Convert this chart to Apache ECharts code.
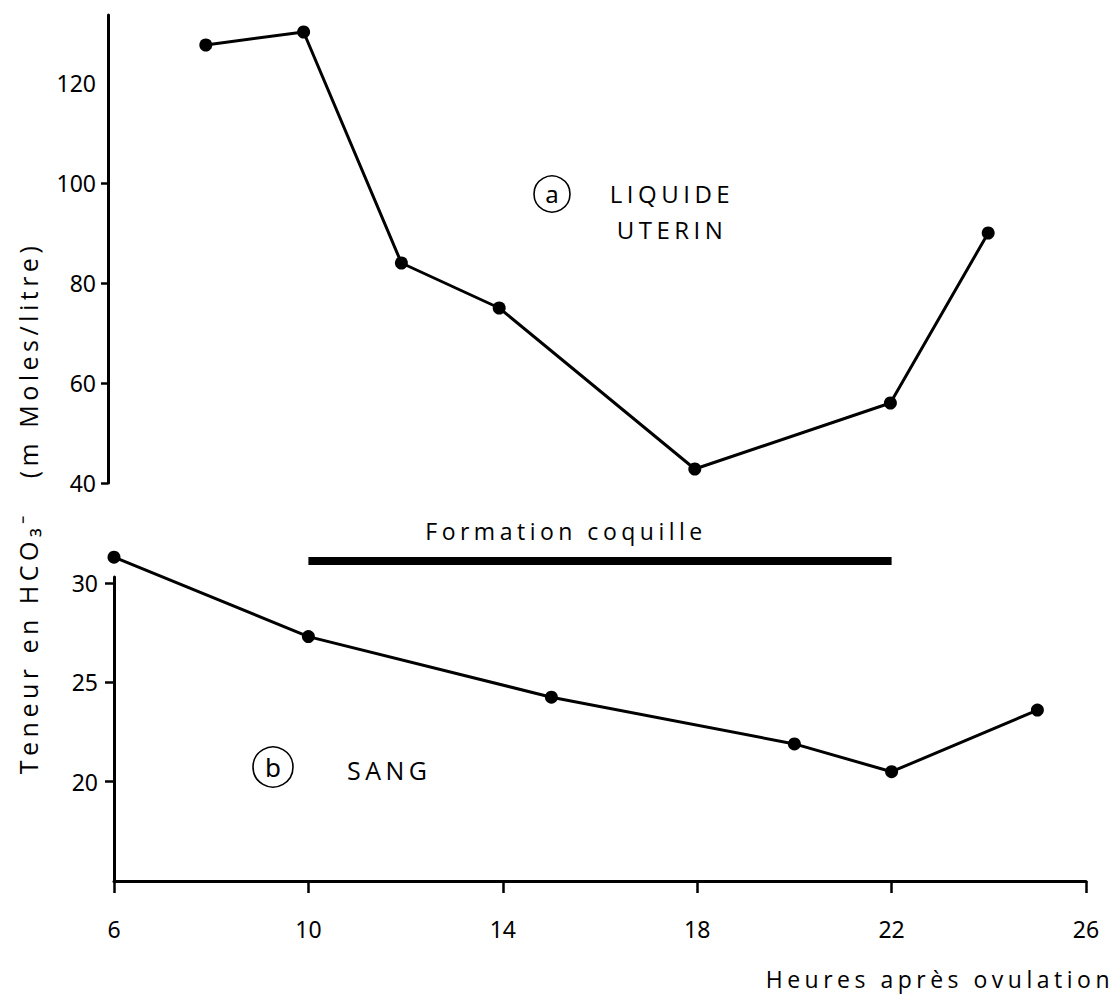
<!DOCTYPE html>
<html>
<head>
<meta charset="utf-8">
<script src="https://cdn.jsdelivr.net/npm/echarts@6/dist/echarts.min.js"></script>
<style>
  html, body { margin: 0; padding: 0; background: #fff; }
  #chart { width: 1120px; height: 997px; }
  /* typewriter-like spacing for the hand-lettered captions */
  #chart text[style*="Open Sans"] { letter-spacing: 4.5px; }
</style>
</head>
<body>
<div id="chart"></div>
<script>
// Hours after ovulation (shared x axis)
const hourTicks = [6, 10, 14, 18, 22, 26];

// (a) uterine fluid, HCO3- in mmol/L
const uterineHours = [8, 10, 12, 14, 18, 22, 24];
const uterineHCO3 = [127.6, 130.2, 84, 75, 42.8, 56, 90];
const uterineLabels = [40, 60, 80, 100, 120];
const uterineTickMarks = [40, 60, 80, 100];

// (b) blood, HCO3- in mmol/L
const bloodHours = [6, 10, 15, 20, 22, 25];
const bloodHCO3 = [31.3, 27.3, 24.25, 21.9, 20.5, 23.6];
const bloodLabels = [20, 25, 30];

// shell formation period
const shellHours = [10, 22];
const shellLevel = 31.1;

const INK = '#000';
const TICK_FONT = 'Noto Sans';
const CAPTION_FONT = 'Open Sans';

const zip = (xs, ys) => xs.map((x, i) => [x, ys[i]]);

const chart = echarts.init(document.getElementById('chart'), null, { renderer: 'svg' });

const axisLine = { show: true, lineStyle: { color: INK, width: 3 } };
const tickLabel = { color: INK, fontFamily: TICK_FONT, fontSize: 23 };

const lineSeries = (xi, yi, data) => ({
  type: 'line',
  xAxisIndex: xi,
  yAxisIndex: yi,
  data: data,
  symbol: 'circle',
  symbolSize: 13,
  clip: false,
  lineStyle: { color: INK, width: 3 },
  itemStyle: { color: INK },
  emphasis: { disabled: true }
});

chart.setOption({
  animation: false,
  backgroundColor: '#fff',
  grid: [
    { left: 108, right: 34, top: 15, height: 468 },
    { left: 114, right: 34, top: 577, height: 304 }
  ],
  xAxis: [
    { gridIndex: 0, type: 'value', min: 6, max: 26, show: false },
    {
      gridIndex: 1, type: 'value', min: 6, max: 26,
      axisLine: { show: true, lineStyle: { color: INK, width: 3 } },
      axisTick: { show: true, customValues: hourTicks, length: 12, lineStyle: { color: INK, width: 2.5 } },
      axisLabel: Object.assign({ customValues: hourTicks, margin: 36 }, tickLabel),
      splitLine: { show: false }
    }
  ],
  yAxis: [
    {
      gridIndex: 0, type: 'value', min: 40, max: 133.6,
      axisLine: axisLine,
      axisTick: { show: true, customValues: uterineTickMarks, length: 7, lineStyle: { color: INK, width: 2.5 } },
      axisLabel: Object.assign({ customValues: uterineLabels, margin: 12 }, tickLabel),
      splitLine: { show: false }
    },
    {
      gridIndex: 1, type: 'value', min: 15, max: 30.3,
      axisLine: axisLine,
      axisTick: { show: true, customValues: bloodLabels, length: 9, lineStyle: { color: INK, width: 2.5 } },
      axisLabel: Object.assign({ customValues: bloodLabels, margin: 16 }, tickLabel),
      splitLine: { show: false }
    }
  ],
  series: [
    lineSeries(0, 0, zip(uterineHours, uterineHCO3)),
    lineSeries(1, 1, zip(bloodHours, bloodHCO3)),
    {
      type: 'line',
      xAxisIndex: 1,
      yAxisIndex: 1,
      data: shellHours.map(h => [h, shellLevel]),
      symbol: 'none',
      clip: false,
      lineStyle: { color: INK, width: 8, cap: 'butt' },
      emphasis: { disabled: true }
    }
  ],
  graphic: [
    {
      type: 'text', x: 28, y: 508, rotation: Math.PI / 2,
      style: {
        text: 'Teneur en HCO\u2083\u207B   (m Moles/litre)',
        fontFamily: CAPTION_FONT, fontSize: 25, fill: INK,
        align: 'center', verticalAlign: 'middle', textAlign: 'center', textVerticalAlign: 'middle'
      }
    },
    {
      type: 'circle', shape: { cx: 552, cy: 194, r: 18 },
      style: { fill: 'none', stroke: INK, lineWidth: 1.6 }
    },
    {
      type: 'text', x: 552, y: 193,
      style: {
        text: 'a', fontFamily: TICK_FONT, fontSize: 24, fill: INK,
        align: 'center', verticalAlign: 'middle', textAlign: 'center', textVerticalAlign: 'middle'
      }
    },
    {
      type: 'text', x: 672, y: 211,
      style: {
        text: 'LIQUIDE\nUTERIN', fontFamily: CAPTION_FONT, fontSize: 24, lineHeight: 36, fill: INK,
        align: 'center', verticalAlign: 'middle', textAlign: 'center', textVerticalAlign: 'middle'
      }
    },
    {
      type: 'circle', shape: { cx: 273, cy: 767, r: 20 },
      style: { fill: 'none', stroke: INK, lineWidth: 1.6 }
    },
    {
      type: 'text', x: 273, y: 767,
      style: {
        text: 'b', fontFamily: TICK_FONT, fontSize: 26, fill: INK,
        align: 'center', verticalAlign: 'middle', textAlign: 'center', textVerticalAlign: 'middle'
      }
    },
    {
      type: 'text', x: 347, y: 770,
      style: {
        text: 'SANG', fontFamily: CAPTION_FONT, fontSize: 25, fill: INK,
        align: 'left', verticalAlign: 'middle', textAlign: 'left', textVerticalAlign: 'middle'
      }
    },
    {
      type: 'text', x: 566, y: 531,
      style: {
        text: 'Formation coquille', fontFamily: CAPTION_FONT, fontSize: 23, fill: INK,
        align: 'center', verticalAlign: 'middle', textAlign: 'center', textVerticalAlign: 'middle'
      }
    },
    {
      type: 'text', x: 1114, y: 979,
      style: {
        text: 'Heures apr\u00E8s ovulation', fontFamily: CAPTION_FONT, fontSize: 23, fill: INK,
        align: 'right', verticalAlign: 'middle', textAlign: 'right', textVerticalAlign: 'middle'
      }
    }
  ]
});
</script>
</body>
</html>
